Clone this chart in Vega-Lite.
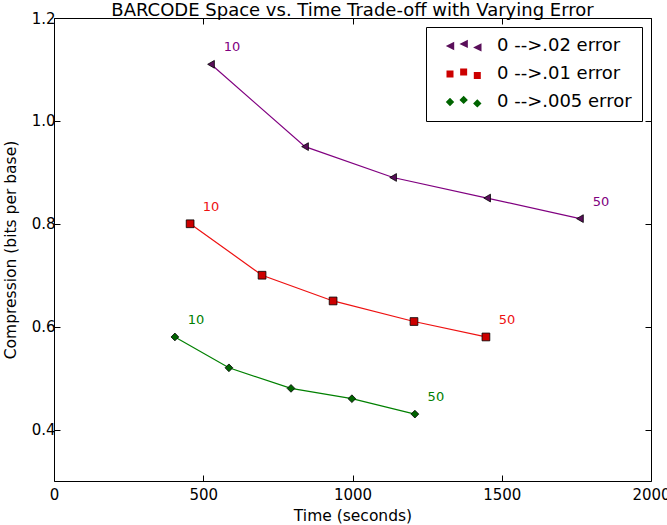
{
  "$schema": "https://vega.github.io/schema/vega-lite/v6.json",
  "width": 597,
  "height": 463,
  "autosize": "none",
  "padding": {"left": 54, "top": 18, "right": 16, "bottom": 44},
  "background": "white",
  "title": {"text": "BARCODE Space vs. Time Trade-off with Varying Error", "font": "DejaVu Sans", "fontSize": 18, "fontWeight": "normal", "color": "black", "offset": 0, "dy": 9},
  "config": {
    "font": "DejaVu Sans",
    "view": {"stroke": "black", "strokeWidth": 1},
    "axis": {"grid": false, "domain": false, "tickColor": "black", "tickSize": -6, "tickWidth": 1, "labelFont": "DejaVu Sans", "labelFontSize": 15, "labelColor": "black", "titleFont": "DejaVu Sans", "titleFontSize": 15.5, "titleFontWeight": "normal", "titleColor": "black"}
  },
  "data": {"values": [
    {"series": "0 -->.02 error", "time": 526, "comp": 1.11, "label": "10"},
    {"series": "0 -->.02 error", "time": 841, "comp": 0.95, "label": ""},
    {"series": "0 -->.02 error", "time": 1136, "comp": 0.89, "label": ""},
    {"series": "0 -->.02 error", "time": 1451, "comp": 0.85, "label": ""},
    {"series": "0 -->.02 error", "time": 1762, "comp": 0.81, "label": "50"},
    {"series": "0 -->.01 error", "time": 456, "comp": 0.80, "label": "10"},
    {"series": "0 -->.01 error", "time": 697, "comp": 0.70, "label": ""},
    {"series": "0 -->.01 error", "time": 935, "comp": 0.65, "label": ""},
    {"series": "0 -->.01 error", "time": 1206, "comp": 0.61, "label": ""},
    {"series": "0 -->.01 error", "time": 1447, "comp": 0.58, "label": "50"},
    {"series": "0 -->.005 error", "time": 405, "comp": 0.58, "label": "10"},
    {"series": "0 -->.005 error", "time": 586, "comp": 0.52, "label": ""},
    {"series": "0 -->.005 error", "time": 794, "comp": 0.48, "label": ""},
    {"series": "0 -->.005 error", "time": 998, "comp": 0.46, "label": ""},
    {"series": "0 -->.005 error", "time": 1209, "comp": 0.43, "label": "50"}
  ]},
  "resolve": {
    "axis": {"x": "independent", "y": "independent"},
    "scale": {"shape": "independent", "fill": "independent"},
    "legend": {"shape": "independent", "fill": "independent"}
  },
  "layer": [
    {
      "mark": {"type": "line", "strokeWidth": 1.2},
      "encoding": {
        "x": {"field": "time", "type": "quantitative", "scale": {"domain": [0, 2000], "nice": false}, "axis": {"orient": "bottom", "values": [0, 500, 1000, 1500, 2000], "format": "d", "title": "Time (seconds)", "labelPadding": 12, "titlePadding": 6, "labelFlush": false}},
        "y": {"field": "comp", "type": "quantitative", "scale": {"domain": [0.3, 1.2], "nice": false, "zero": false}, "axis": {"orient": "left", "values": [0.4, 0.6, 0.8, 1.0, 1.2], "format": ".1f", "title": "Compression (bits per base)", "labelPadding": 5, "titlePadding": 13, "labelFlush": false}},
        "stroke": {"field": "series", "type": "nominal", "scale": {"domain": ["0 -->.02 error", "0 -->.01 error", "0 -->.005 error"], "range": ["#800080", "#ee1111", "#008000"]}, "legend": null},
        "detail": {"field": "series"}
      }
    },
    {
      "mark": {"type": "point", "filled": true, "size": 60, "stroke": "black", "strokeWidth": 0.8, "opacity": 1},
      "encoding": {
        "x": {"field": "time", "type": "quantitative", "axis": null},
        "y": {"field": "comp", "type": "quantitative", "axis": null},
        "shape": {"field": "series", "type": "nominal", "scale": {"domain": ["0 -->.02 error", "0 -->.01 error", "0 -->.005 error"], "range": ["triangle-left", "square", "diamond"]}, "legend": null},
        "fill": {"field": "series", "type": "nominal", "scale": {"domain": ["0 -->.02 error", "0 -->.01 error", "0 -->.005 error"], "range": ["#5a0f5a", "#cc0000", "#006400"]}, "legend": null}
      }
    },
    {
      "mark": {"type": "text", "dx": 21, "dy": -17, "fontSize": 13, "font": "DejaVu Sans"},
      "encoding": {
        "x": {"field": "time", "type": "quantitative", "axis": null},
        "y": {"field": "comp", "type": "quantitative", "axis": null},
        "text": {"field": "label"},
        "color": {"field": "series", "type": "nominal", "scale": {"domain": ["0 -->.02 error", "0 -->.01 error", "0 -->.005 error"], "range": ["#800080", "#ee1111", "#008000"]}, "legend": null}
      }
    },
    {
      "mark": {"type": "point", "filled": true, "opacity": 0, "size": 45},
      "encoding": {
        "x": {"field": "time", "type": "quantitative", "axis": {"orient": "top", "values": [0, 500, 1000, 1500, 2000], "labels": false, "title": null, "domain": false}},
        "y": {"field": "comp", "type": "quantitative", "axis": {"orient": "right", "values": [0.4, 0.6, 0.8, 1.0, 1.2], "labels": false, "title": null, "domain": false}},
        "shape": {"field": "series", "type": "nominal", "scale": {"domain": ["0 -->.02 error", "0 -->.01 error", "0 -->.005 error"], "range": [
          "M-1.2,0L1.2,-1.2L1.2,1.2ZM2.7,-0.6L5.1,-1.8L5.1,0.6ZM6.6,0.4L9,-0.8L9,1.6Z",
          "M-1,-1L1,-1L1,1L-1,1ZM2.9,-1.6L4.9,-1.6L4.9,0.4L2.9,0.4ZM6.8,-0.6L8.8,-0.6L8.8,1.4L6.8,1.4Z",
          "M0,-1.2L1.2,0L0,1.2L-1.2,0ZM3.9,-1.8L5.1,-0.6L3.9,0.6L2.7,-0.6ZM7.8,-0.8L9,0.4L7.8,1.6L6.6,0.4Z"
        ]}, "legend": {"title": null, "orient": "top-right", "offset": 9, "padding": 10, "strokeColor": "black", "fillColor": "white", "cornerRadius": 0, "symbolSize": 49, "symbolOpacity": 1, "symbolStrokeColor": "black", "symbolStrokeWidth": 0.8, "symbolOffset": 5, "labelOffset": 38, "labelFontSize": 18, "labelFont": "DejaVu Sans", "labelColor": "black", "rowPadding": 10, "labelLimit": 300}},
        "fill": {"field": "series", "type": "nominal", "scale": {"domain": ["0 -->.02 error", "0 -->.01 error", "0 -->.005 error"], "range": ["#5a0f5a", "#cc0000", "#006400"]}, "legend": {"title": null, "orient": "top-right", "offset": 9, "padding": 10, "strokeColor": "black", "fillColor": "white", "cornerRadius": 0, "symbolSize": 49, "symbolOpacity": 1, "symbolStrokeColor": "black", "symbolStrokeWidth": 0.8, "symbolOffset": 5, "labelOffset": 38, "labelFontSize": 18, "labelFont": "DejaVu Sans", "labelColor": "black", "rowPadding": 10, "labelLimit": 300}}
      }
    }
  ]
}
